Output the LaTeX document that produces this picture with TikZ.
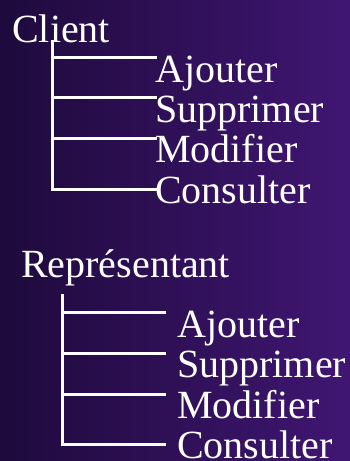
\documentclass[tikz,border=0pt]{standalone}
\usepackage{fontspec}
\newfontfamily\tmsfont{Liberation Serif}
\begin{document}
\begin{tikzpicture}[x=1pt,y=-1pt,
  lbl/.style={text=white,anchor=base west,inner sep=0pt,font=\tmsfont\fontsize{40}{48}\selectfont},
  tree/.style={draw=white,line width=3pt,line cap=rect}]
\shade[left color={rgb,255:red,30;green,10;blue,60},right color={rgb,255:red,64;green,22;blue,114}] (0,0) rectangle (350,461);
\useasboundingbox (0,0) rectangle (350,461);
% top tree
\node[lbl] (client) at (12,42) {Client};
\node[lbl] (a1) at (155,82) {Ajouter};
\node[lbl] (s1) at (155,122) {Supprimer};
\node[lbl] (m1) at (155,162) {Modifier};
\node[lbl] (c1) at (155,203) {Consulter};
\coordinate (t0) at (52,41);
\coordinate (t1) at (52,57);
\coordinate (t2) at (52,97);
\coordinate (t3) at (52,138);
\coordinate (t4) at (52,189);
\draw[tree] (t0) -- (t4);
\draw[tree] (t1) -- (t1 -| a1.west);
\draw[tree] (t2) -- (t2 -| s1.west);
\draw[tree] (t3) -- (t3 -| m1.west);
\draw[tree] (t4) -- (t4 -| c1.west);
% bottom tree
\node[lbl] (rep) at (21,277) {Représentant};
\node[lbl] (a2) at (177,337) {Ajouter};
\node[lbl] (s2) at (177,377) {Supprimer};
\node[lbl] (m2) at (177,418) {Modifier};
\node[lbl] (c2) at (177,458) {Consulter};
\coordinate (b0) at (62,295);
\coordinate (b1) at (62,312);
\coordinate (b2) at (62,353);
\coordinate (b3) at (62,394);
\coordinate (b4) at (62,444);
\coordinate (e1) at (164,312);
\coordinate (e2) at (164,353);
\coordinate (e3) at (164,394);
\coordinate (e4) at (164,444);
\draw[tree] (b0) -- (b4);
\draw[tree] (b1) -- (e1);
\draw[tree] (b2) -- (e2);
\draw[tree] (b3) -- (e3);
\draw[tree] (b4) -- (e4);
\end{tikzpicture}
\end{document}
